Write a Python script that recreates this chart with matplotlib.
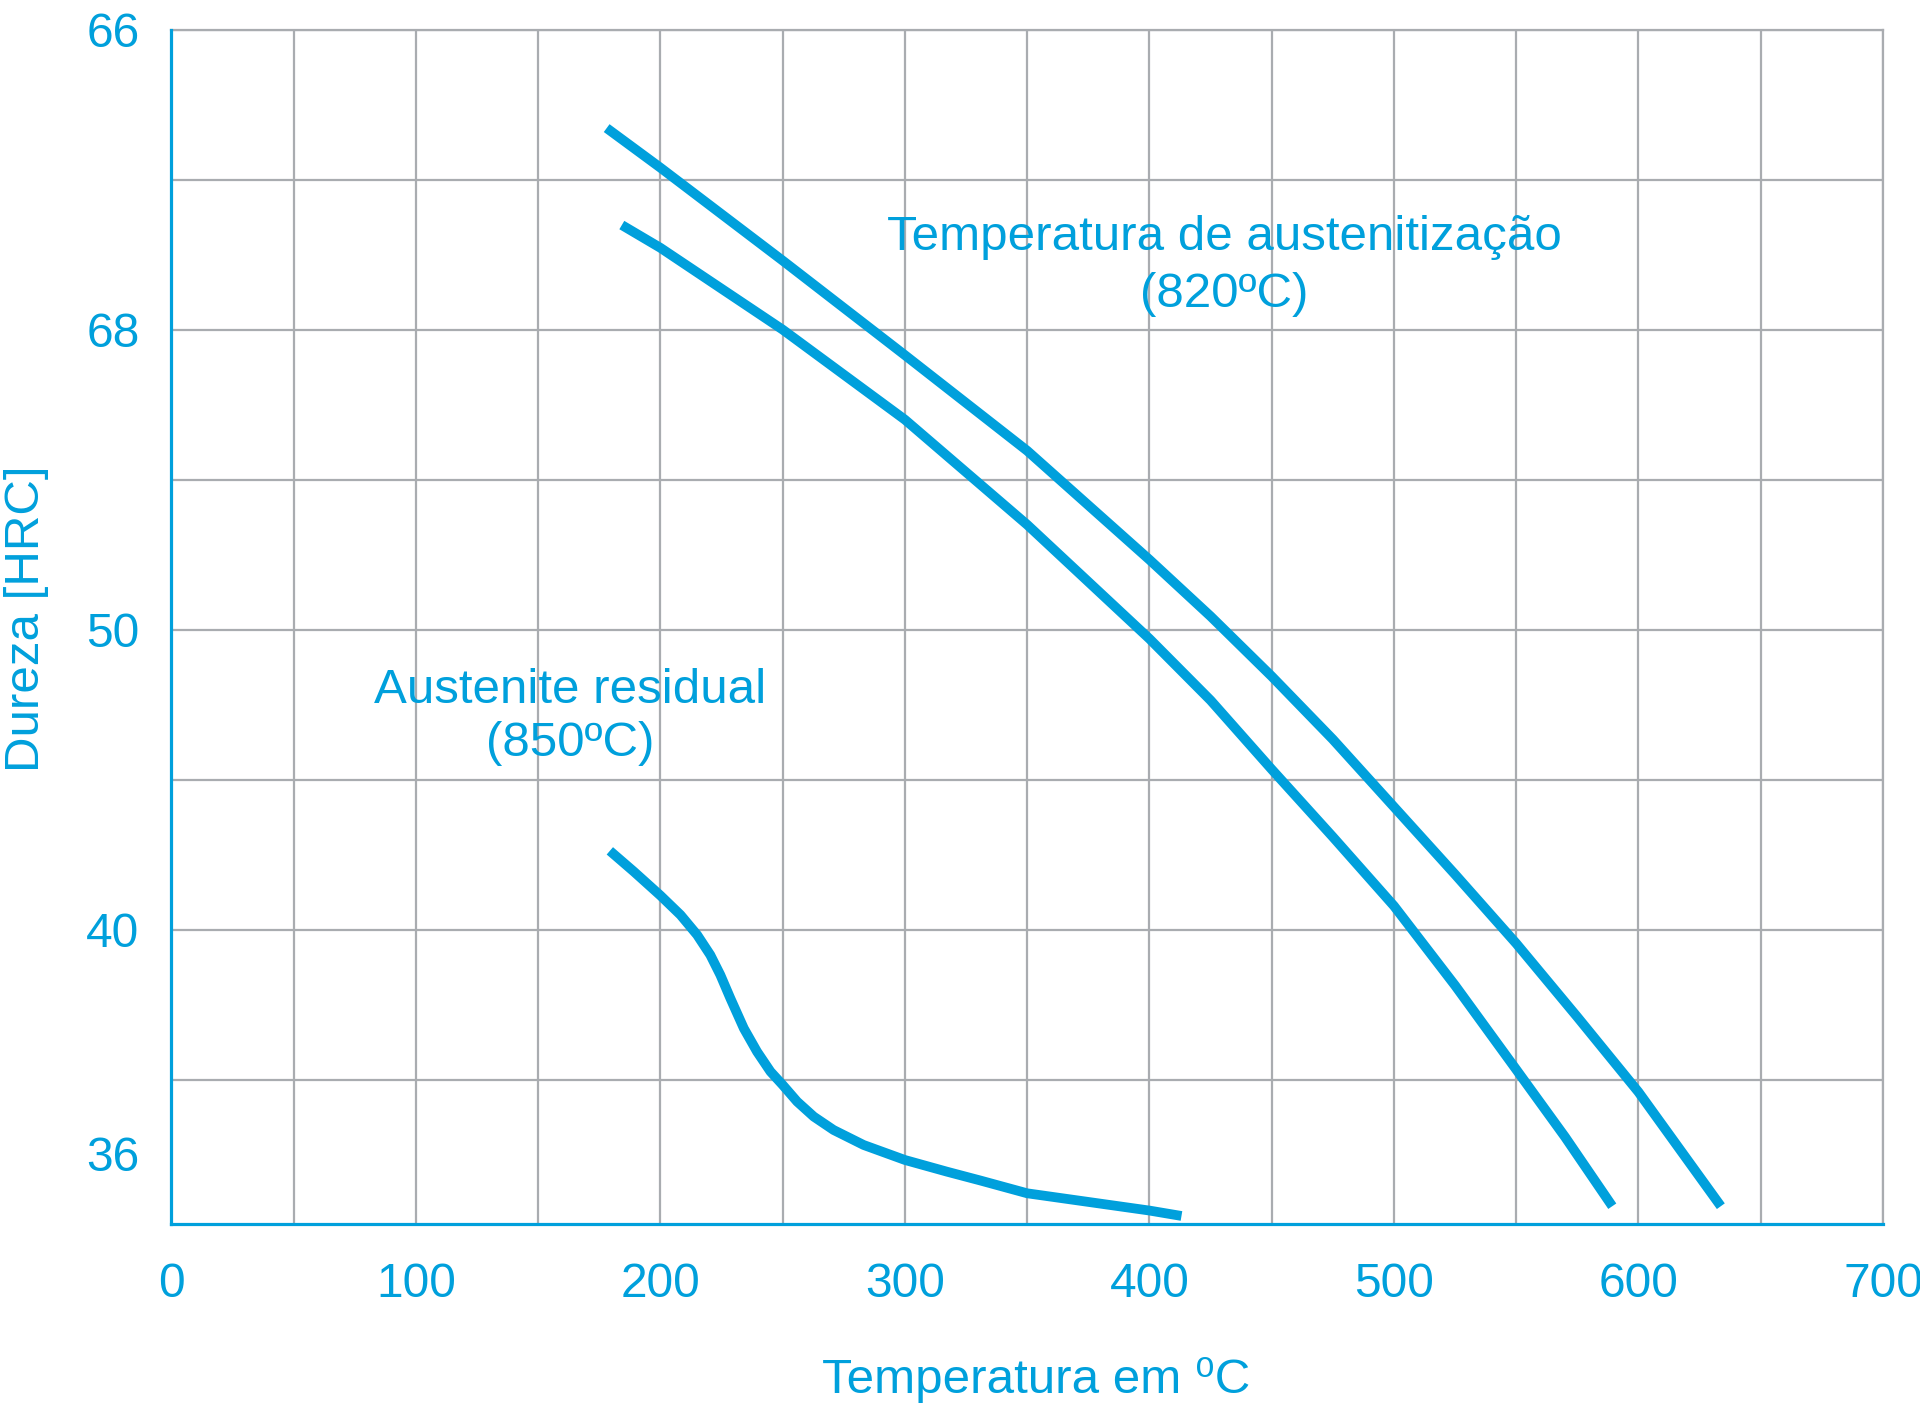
import matplotlib
matplotlib.use("Agg")
import matplotlib.pyplot as plt
from matplotlib.ticker import MultipleLocator, FixedLocator

plt.rcParams['font.family'] = ['Liberation Sans', 'DejaVu Sans']

# Curves (x in degC, y in grid units, 0..8 from bottom to top)
temp_820_a = [178.0, 200, 250, 300, 350, 400, 425, 450, 475, 500, 525, 550, 575, 600, 633.7]
dur_820_a = [7.343, 7.079, 6.46, 5.83, 5.193, 4.467, 4.09, 3.69, 3.27, 2.82, 2.37, 1.91, 1.42, 0.92, 0.159]

temp_820_b = [184.2, 200, 250, 300, 350, 400, 425, 450, 475, 500, 525, 550, 570, 589.3]
dur_820_b = [6.697, 6.545, 6.0, 5.40, 4.70, 3.94, 3.53, 3.07, 2.62, 2.16, 1.63, 1.07, 0.62, 0.159]

temp_850 = [179.3, 189.1, 200, 208.2, 215, 220.4, 224.5, 228.6, 234.1, 239.5, 245, 250,
            255.9, 262.7, 270.8, 283.1, 300, 317.2, 330.9, 350, 400, 413.1]
dur_850 = [2.527, 2.389, 2.229, 2.1, 1.967, 1.833, 1.7, 1.544, 1.344, 1.189, 1.056, 0.967,
           0.856, 0.756, 0.667, 0.567, 0.467, 0.389, 0.33, 0.245, 0.13, 0.094]

# axis labels as printed in the source chart
x_ticks = [0, 100, 200, 300, 400, 500, 600, 700]
y_tick_pos = [8, 6, 4, 2, 0.51]
y_tick_labels = ["66", "68", "50", "40", "36"]

blue = "#00A0DC"
grid_gray = "#A9ACB0"

fig = plt.figure(figsize=(19.2, 14.12), dpi=100)
ax = fig.add_axes([0.0893, 0.1331, 0.9807 - 0.0893, 0.9791 - 0.1331])

for t, d in [(temp_820_a, dur_820_a), (temp_820_b, dur_820_b), (temp_850, dur_850)]:
    ax.plot(t, d, color=blue, lw=7, solid_capstyle="butt", solid_joinstyle="round", zorder=3)

ax.set_xlim(0, 700)
ax.set_ylim(0.04, 8)

# grid on every 50 degC and every unit; labels only where the source put them
ax.xaxis.set_major_locator(FixedLocator(x_ticks))
ax.xaxis.set_minor_locator(MultipleLocator(50))
ax.yaxis.set_major_locator(FixedLocator(y_tick_pos))
ax.yaxis.set_minor_locator(MultipleLocator(1))
ax.set_yticklabels(y_tick_labels)
ax.xaxis.remove_overlapping_locs = False
ax.yaxis.remove_overlapping_locs = False
ax.grid(False, which="major")
ax.grid(True, which="minor", color=grid_gray, lw=1.6)
ax.set_axisbelow(True)

ax.tick_params(which="both", length=0, colors=blue, labelsize=34.5)
ax.tick_params(axis="x", pad=27)
ax.tick_params(axis="y", pad=23)

for side in ["left", "bottom"]:
    ax.spines[side].set_color(blue)
    ax.spines[side].set_linewidth(2.3)
    ax.spines[side].set_zorder(4)
for side in ["top", "right"]:
    ax.spines[side].set_color(grid_gray)
    ax.spines[side].set_linewidth(1.6)

ax.text(430.5, 6.533, "Temperatura de austenitização", color=blue, fontsize=35.5,
        ha="center", va="baseline")
ax.text(430.5, 6.152, "(820ºC)", color=blue, fontsize=35.5, ha="center", va="baseline")
ax.text(163.2, 3.512, "Austenite residual", color=blue, fontsize=35.5, ha="center", va="baseline")
ax.text(163.2, 3.157, "(850ºC)", color=blue, fontsize=35.5, ha="center", va="baseline")

fig.text(0.014, 0.562, "Dureza [HRC]", color=blue, fontsize=35.5, rotation=90,
         ha="center", va="center")
fig.text(0.5396, 0.0227, "Temperatura em \u2070C", color=blue, fontsize=35.5,
         ha="center", va="center")

fig.savefig("out.png", dpi=100)
